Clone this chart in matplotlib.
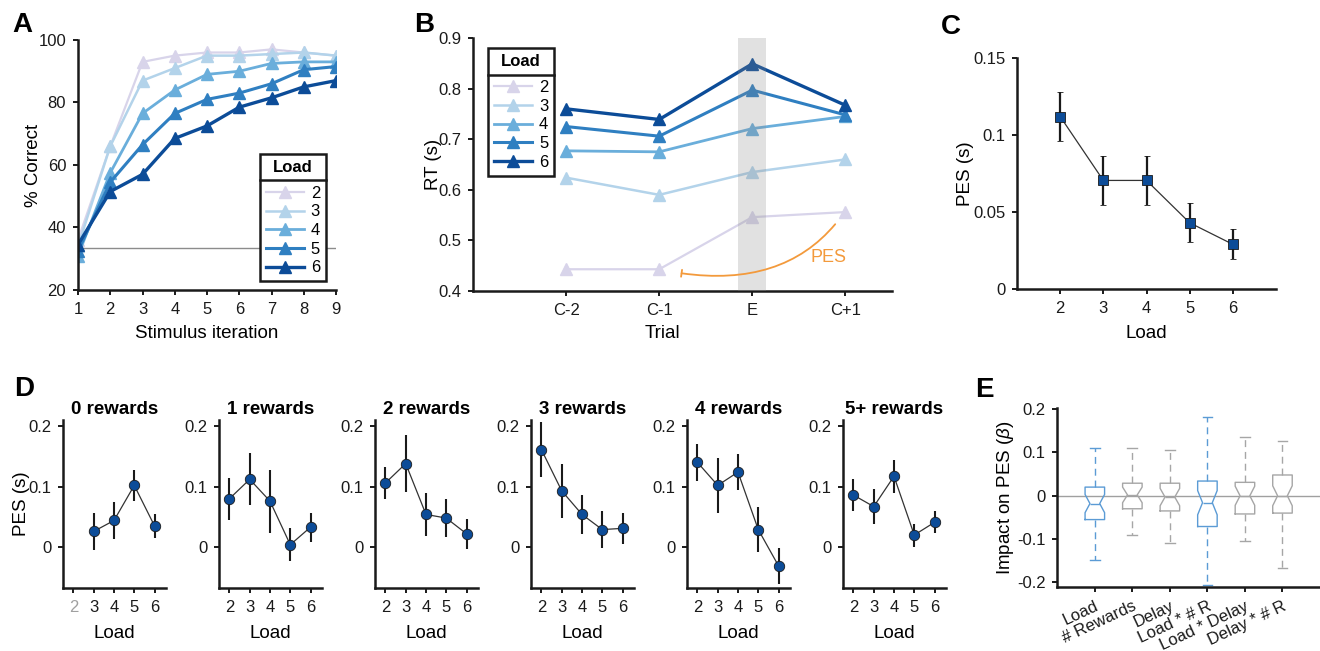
import numpy as np
import matplotlib.pyplot as plt
from matplotlib.lines import Line2D

plt.rcParams['font.family'] = ['Liberation Sans', 'DejaVu Sans']
plt.rcParams['mathtext.fontset'] = 'custom'
plt.rcParams['mathtext.it'] = 'Liberation Sans:italic'

# ---- data ----
loads = [2, 3, 4, 5, 6]
load_colors = ['#d8d4ea', '#b3d3ea', '#6aaedb', '#2f7fc1', '#0c4c98']
load_lw = [1.6, 1.8, 2.0, 2.2, 2.4]

# A: accuracy per stimulus iteration
iteration = [1, 2, 3, 4, 5, 6, 7, 8, 9]
acc_load2 = [36, 66, 93, 95, 96, 96, 97, 96, 95]
acc_load3 = [34, 66, 87, 91, 95, 95, 95.5, 96, 95]
acc_load4 = [31, 57.5, 76.5, 84, 89, 90, 92.5, 93, 93]
acc_load5 = [32.5, 54.5, 66.5, 76.5, 81, 83, 86, 90.5, 91.5]
acc_load6 = [34.5, 51.5, 57, 68.5, 72.5, 78.5, 81.5, 85, 87]
chance = 100 / 3

# B: RT around error trial
trials = ['C-2', 'C-1', 'E', 'C+1']
rt_load2 = [0.443, 0.443, 0.546, 0.556]
rt_load3 = [0.624, 0.590, 0.635, 0.660]
rt_load4 = [0.677, 0.675, 0.721, 0.745]
rt_load5 = [0.725, 0.706, 0.797, 0.748]
rt_load6 = [0.760, 0.739, 0.849, 0.767]

# C: PES by load
pes_mean = [0.112, 0.0705, 0.0705, 0.043, 0.029]
pes_sem = [0.016, 0.016, 0.016, 0.0127, 0.0097]

# D: PES by load, split by number of rewards
reward_titles = ['0 rewards', '1 rewards', '2 rewards', '3 rewards', '4 rewards', '5+ rewards']
pes_r0 = [np.nan, 0.026, 0.044, 0.102, 0.035]
pes_r1 = [0.080, 0.112, 0.076, 0.004, 0.033]
pes_r2 = [0.106, 0.138, 0.054, 0.048, 0.022]
pes_r3 = [0.161, 0.093, 0.054, 0.029, 0.031]
pes_r4 = [0.140, 0.102, 0.124, 0.029, -0.031]
pes_r5 = [0.086, 0.067, 0.117, 0.020, 0.041]
err_r0 = [np.nan, 0.030, 0.030, 0.025, 0.020]
err_r1 = [0.035, 0.043, 0.052, 0.027, 0.024]
err_r2 = [0.026, 0.047, 0.036, 0.032, 0.025]
err_r3 = [0.045, 0.045, 0.032, 0.031, 0.026]
err_r4 = [0.030, 0.045, 0.030, 0.037, 0.030]
err_r5 = [0.026, 0.029, 0.027, 0.019, 0.018]

# E: regression weights (box stats)
predictors = ['Load', '# Rewards', 'Delay', 'Load * # R', 'Load * Delay', 'Delay * # R']
beta_whislo = [-0.148, -0.090, -0.109, -0.205, -0.104, -0.167]
beta_q1 = [-0.055, -0.030, -0.035, -0.071, -0.042, -0.040]
beta_med = [-0.018, 0.002, -0.003, -0.016, 0.000, 0.000]
beta_q3 = [0.020, 0.029, 0.029, 0.034, 0.031, 0.048]
beta_whishi = [0.110, 0.110, 0.105, 0.181, 0.135, 0.127]
beta_ci = [0.021, 0.018, 0.020, 0.028, 0.022, 0.023]
box_colors = ['#5b9bd5', '#a6a6a6', '#a6a6a6', '#5b9bd5', '#a6a6a6', '#a6a6a6']

W, H = 1320, 651
fig = plt.figure(figsize=(W / 100, H / 100), dpi=100)


def px_axes(left, top, right, bottom):
    return fig.add_axes([left / W, 1 - bottom / H, (right - left) / W, (bottom - top) / H])


def style(ax):
    for s in ['top', 'right']:
        ax.spines[s].set_visible(False)
    for s in ['left', 'bottom']:
        ax.spines[s].set_linewidth(1.8)
        ax.spines[s].set_color('#1a1a1a')
    ax.tick_params(direction='out', length=3.5, width=1.4, labelsize=12,
                   colors='#1a1a1a', pad=5)


def load_legend(ax, anchor):
    handles = [Line2D([], [], color=c, lw=lw, marker='^', ms=8.5) for c, lw in zip(load_colors, load_lw)]
    leg = ax.legend(handles, [str(l) for l in loads], title='Load', loc='upper left',
                    bbox_to_anchor=anchor, fancybox=False, framealpha=1, edgecolor='#1a1a1a',
                    fontsize=12, title_fontproperties={'weight': 'bold', 'size': 12},
                    handlelength=2.3, handletextpad=0.4, labelspacing=0.22, borderpad=0.35,
                    borderaxespad=0)
    leg.get_frame().set_linewidth(1.8)
    # more room between the title and the entries
    leg._legend_box.sep = 8
    return leg


# ---- A ----
axA = px_axes(78, 40, 336, 290)
accs = [acc_load2, acc_load3, acc_load4, acc_load5, acc_load6]
axA.axhline(chance, color='#8c8c8c', lw=1, zorder=1)
for acc, c, lw in zip(accs, load_colors, load_lw):
    axA.plot(iteration, acc, color=c, lw=lw, marker='^', ms=8.5, zorder=2)
axA.set_xlim(1, 9)
axA.set_ylim(20, 100)
axA.set_xticks(iteration)
axA.set_yticks([20, 40, 60, 80, 100])
style(axA)
axA.set_xlabel('Stimulus iteration', fontsize=13.5)
axA.set_ylabel('% Correct', fontsize=13.5)
axA.xaxis.set_label_coords(0.5, -0.14)
axA.yaxis.set_label_coords(-0.14, 0.5)
legA = load_legend(axA, (0.705, 0.545))

# ---- B ----
axB = px_axes(473, 38, 892, 291)
x_tr = np.arange(1, len(trials) + 1)
rts = [rt_load2, rt_load3, rt_load4, rt_load5, rt_load6]
for rt, c, lw in zip(rts, load_colors, load_lw):
    axB.plot(x_tr, rt, color=c, lw=lw, marker='^', ms=8.5, zorder=2)
axB.axvspan(2.85, 3.15, color='#8a8a8a', alpha=0.25, lw=0, zorder=3)
axB.annotate('', xy=(2.24, 0.435), xytext=(3.89, 0.532),
             arrowprops=dict(arrowstyle='-[, widthB=0.25, lengthB=0', color='#f39a3c', lw=1.3,
                             connectionstyle='angle3,angleA=50,angleB=-8',
                             shrinkA=0, shrinkB=0), zorder=4)
axB.text(3.82, 0.467, 'PES', color='#f39a3c', fontsize=13, ha='center', va='center')
axB.set_xlim(0, 4.5)
axB.set_ylim(0.4, 0.9)
axB.set_xticks(x_tr)
axB.set_xticklabels(trials)
axB.set_yticks([0.4, 0.5, 0.6, 0.7, 0.8, 0.9])
style(axB)
axB.set_xlabel('Trial', fontsize=13.5)
axB.set_ylabel('RT (s)', fontsize=13.5)
axB.xaxis.set_label_coords(0.451, -0.135)
axB.yaxis.set_label_coords(-0.075, 0.5)
legB = load_legend(axB, (0.036, 0.96))

# ---- C ----
axC = px_axes(1017, 58, 1276, 289)
axC.errorbar(loads, pes_mean, yerr=pes_sem, color='#333333', lw=0.9, ecolor='#1a1a1a',
             elinewidth=1.6, capsize=2.5, capthick=1.4, marker='s', ms=7.5,
             mfc='#0c4c98', mec='#1a1a1a', mew=0.6)
axC.set_xlim(1, 7)
axC.set_ylim(0, 0.15)
axC.set_xticks(loads)
axC.set_yticks([0, 0.05, 0.1, 0.15])
axC.set_yticklabels(['0', '0.05', '0.1', '0.15'])
style(axC)
axC.set_xlabel('Load', fontsize=13.5)
axC.set_ylabel('PES (s)', fontsize=13.5)
axC.xaxis.set_label_coords(0.5, -0.155)
axC.yaxis.set_label_coords(-0.165, 0.5)

# ---- D ----
pes_rw = [pes_r0, pes_r1, pes_r2, pes_r3, pes_r4, pes_r5]
err_rw = [err_r0, err_r1, err_r2, err_r3, err_r4, err_r5]
for i, (title, m, e) in enumerate(zip(reward_titles, pes_rw, err_rw)):
    left = 63.3 + 156 * i
    ax = px_axes(left, 420, left + 102.4, 588.3)
    ax.errorbar(loads, m, yerr=e, color='#333333', lw=0.9, ecolor='#1a1a1a', elinewidth=1.5,
                capsize=0, marker='o', ms=7.5, mfc='#0c4c98', mec='#1a1a1a', mew=0.6)
    ax.set_xlim(1.5, 6.55)
    ax.set_ylim(-0.068, 0.21)
    ax.set_xticks(loads)
    ax.set_yticks([0, 0.1, 0.2])
    ax.set_yticklabels(['0', '0.1', '0.2'])
    style(ax)
    if np.isnan(m[0]):
        ax.get_xticklabels()[0].set_color('#a0a0a0')
    ax.set_title(title, fontsize=13.5, fontweight='bold', pad=4)
    ax.set_xlabel('Load', fontsize=13.5)
    ax.xaxis.set_label_coords(0.5, -0.22)
    if i == 0:
        ax.set_ylabel('PES (s)', fontsize=13.5)
        ax.yaxis.set_label_coords(-0.33, 0.5)

# ---- E ----
axE = px_axes(1057.3, 408.3, 1320, 586.7)
axE.axhline(0, color='#a0a0a0', lw=1, zorder=1)
stats = []
for lab, lo, q1, med, q3, hi, ci in zip(predictors, beta_whislo, beta_q1, beta_med, beta_q3,
                                        beta_whishi, beta_ci):
    stats.append(dict(label=lab, whislo=lo, q1=q1, med=med, q3=q3, whishi=hi,
                      cilo=med - ci, cihi=med + ci, fliers=[]))
bp = axE.bxp(stats, positions=range(1, len(stats) + 1), widths=0.52, shownotches=True,
             showfliers=False, patch_artist=False, manage_ticks=False)
for k, col in enumerate(box_colors):
    bp['boxes'][k].set(color=col, lw=1.0)
    bp['medians'][k].set(color=col, lw=1.0)
    for w in bp['whiskers'][2 * k:2 * k + 2]:
        w.set(color=col, lw=1.0, ls=(0, (5, 3.5)))
    for cp in bp['caps'][2 * k:2 * k + 2]:
        cp.set(color=col, lw=1.0)
axE.set_xlim(0, 7)
axE.set_ylim(-0.21, 0.202)
axE.set_xticks(range(1, len(predictors) + 1))
axE.set_xticklabels(predictors, rotation=25, ha='right', rotation_mode='anchor')
axE.set_yticks([-0.2, -0.1, 0, 0.1, 0.2])
axE.set_yticklabels(['-0.2', '-0.1', '0', '0.1', '0.2'])
style(axE)
axE.set_ylabel(r'Impact on PES ($\mathit{\beta}$)', fontsize=13.5)
axE.yaxis.set_label_coords(-0.158, 0.5)

# ---- panel letters ----
for letter, (x, y) in zip('ABCDE', [(12, 12), (414, 12), (941, 14), (14, 376), (975, 377)]):
    fig.text(x / W, 1 - y / H, letter, fontsize=20, fontweight='bold', ha='left', va='top')

# separator line between legend title and entries
fig.canvas.draw()
rend = fig.canvas.get_renderer()
for leg in [legA, legB]:
    fb = leg.get_frame().get_window_extent(rend)
    tb = leg.get_title().get_window_extent(rend)
    hb = leg._legend_handle_box.get_window_extent(rend)
    yl = (tb.y0 + hb.y1) / 2
    p0 = fig.transFigure.inverted().transform((fb.x0, yl))
    p1 = fig.transFigure.inverted().transform((fb.x1, yl))
    fig.add_artist(Line2D([p0[0], p1[0]], [p0[1], p1[1]], color='#1a1a1a', lw=1.8,
                          transform=fig.transFigure, zorder=10))

fig.savefig('out.png', dpi=100)
